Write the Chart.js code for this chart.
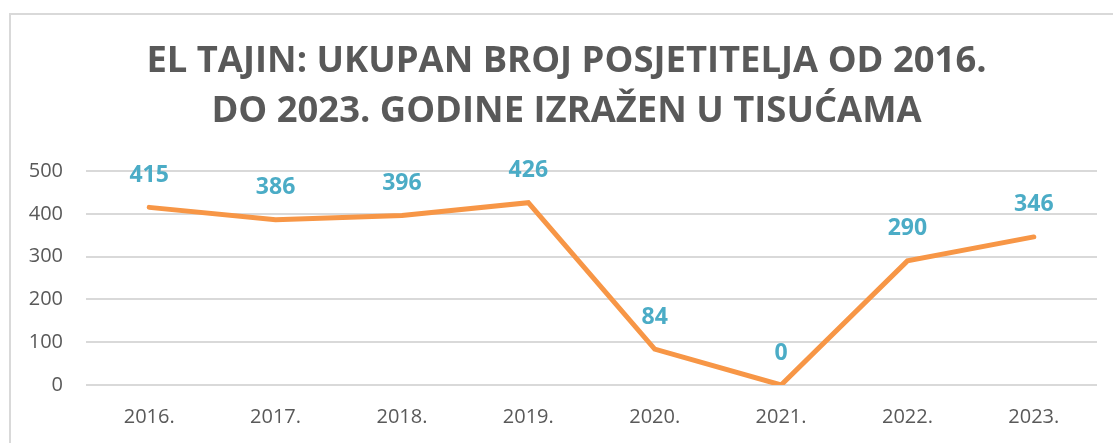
<!DOCTYPE html>
<html>
<head>
<meta charset="utf-8">
<script src="https://cdn.jsdelivr.net/npm/chart.js@4"></script>
<style>
	html, body { margin: 0; padding: 0; background: #fff; }
	#wrap { position: relative; width: 1113px; height: 443px; overflow: hidden; }
	#frame { position: absolute; left: 9px; top: 13px; width: 1200px; height: 600px; border-left: 2px solid #d9d9d9; border-top: 2px solid #d9d9d9; }
	canvas { position: absolute; left: 0; top: 0; }
</style>
</head>
<body>
<div id="wrap">
	<div id="frame"></div>
	<canvas id="chart-line" width="1113" height="443"></canvas>
</div>
<script>
const YEARS = ["2016.", "2017.", "2018.", "2019.", "2020.", "2021.", "2022.", "2023."];
const VISITORS = [415, 386, 396, 426, 84, 0, 290, 346];
const Y_TICKS = [0, 100, 200, 300, 400, 500];
const TITLE = ["EL TAJIN: UKUPAN BROJ POSJETITELJA OD 2016.", "DO 2023. GODINE IZRAŽEN U TISUĆAMA"];

const FONT = "'Open Sans', sans-serif";
const MUTED = "#595959";

// Value labels above each point
const valueLabels = {
	id: "valueLabels",
	afterDatasetsDraw(chart) {
		const { ctx } = chart;
		const meta = chart.getDatasetMeta(0);
		ctx.save();
		ctx.font = "bold 23px " + FONT;
		ctx.fillStyle = "#4bacc6";
		ctx.textAlign = "center";
		ctx.textBaseline = "middle";
		meta.data.forEach((pt, i) => {
			ctx.fillText(String(VISITORS[i]), pt.x, pt.y - 32);
		});
		ctx.restore();
	},
};

// Title is centred a bit right of the canvas middle
const titleShift = {
	id: "titleShift",
	afterLayout(chart) {
		if (chart.titleBlock) chart.titleBlock.left = 36;
	},
};

const WRAPPER = document.getElementById("chart-line");

const CONFIG = {
	type: "line",
	data: {
		labels: YEARS,
		datasets: [
			{
				label: "Posjetitelji",
				data: VISITORS,
				borderColor: "#f79646",
				backgroundColor: "transparent",
				borderWidth: 5,
				pointRadius: 0,
				tension: 0,
				borderCapStyle: "round",
			},
		],
	},
	options: {
		responsive: false,
		animation: false,
		layout: {
			padding: { left: 0, right: 16, top: 0, bottom: 15 },
		},
		plugins: {
			legend: { display: false },
			tooltip: { enabled: false },
			title: {
				display: true,
				text: TITLE,
				color: MUTED,
				font: { family: FONT, size: 36.4, weight: "bold", lineHeight: 50 / 36.4 },
				padding: { top: 37, bottom: 34 },
			},
		},
		scales: {
			x: {
				offset: true,
				afterFit(scale) { scale.height = 43; },
				border: { display: false },
				grid: { display: false, drawTicks: false },
				ticks: { color: MUTED, padding: 20, font: { family: FONT, size: 20 } },
			},
			y: {
				min: 0,
				max: 500,
				afterFit(scale) { scale.width = 86; },
				afterBuildTicks(scale) { scale.ticks = Y_TICKS.map(v => ({ value: v })); },
				border: { display: false },
				grid: { color: "#d9d9d9", lineWidth: 2, drawTicks: false },
				ticks: { color: MUTED, padding: 23, font: { family: FONT, size: 20 } },
			},
		},
	},
	plugins: [valueLabels, titleShift],
};

if (WRAPPER) {
	new Chart(WRAPPER, CONFIG);
}
</script>
</body>
</html>
